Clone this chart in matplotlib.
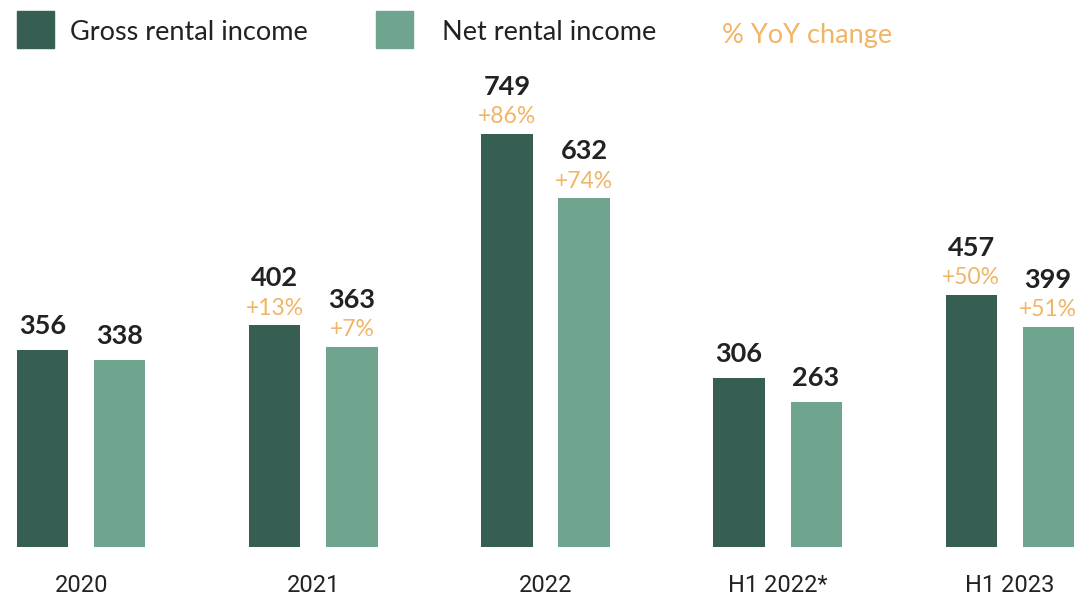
import matplotlib
matplotlib.use("Agg")
import matplotlib.pyplot as plt
from matplotlib.patches import Rectangle

categories = ["2020", "2021", "2022", "H1 2022*", "H1 2023"]
gross = [356, 402, 749, 306, 457]
net = [338, 363, 632, 263, 399]
gross_yoy = [None, "+13%", "+86%", None, "+50%"]
net_yoy = [None, "+7%", "+74%", None, "+51%"]

DARK = "#375E53"
LIGHT = "#6FA58F"
ORANGE = "#F0B565"
TEXT = "#222222"

plt.rcParams['font.family'] = ['Lato', 'DejaVu Sans']

W, H = 1075, 597
fig = plt.figure(figsize=(W / 100, H / 100), dpi=100)
ax = fig.add_axes([0, 50 / H, 1, 547 / H])

off = 0.166
bw = 0.22
xs = list(range(len(categories)))
ax.bar([x - off for x in xs], gross, width=bw, color=DARK)
ax.bar([x + off for x in xs], net, width=bw, color=LIGHT)

ax.set_xlim(-0.351, 4.282)
ax.set_ylim(0, 991)
ax.axis('off')

px = 991 / 547  # data units per pixel


def label(x, v, pct):
    if pct:
        ax.text(x, v + 17 * px, pct, ha='center', va='center', fontsize=16.5, color=ORANGE)
        ax.text(x, v + 47 * px, str(v), ha='center', va='center', fontsize=19.5,
                fontweight='bold', color=TEXT)
    else:
        ax.text(x, v + 24 * px, str(v), ha='center', va='center', fontsize=19.5,
                fontweight='bold', color=TEXT)


for x, g, n, gp, np_ in zip(xs, gross, net, gross_yoy, net_yoy):
    label(x - off, g, gp)
    label(x + off, n, np_)
    ax.text(x, -38 * px, categories[x], ha='center', va='center', fontsize=17,
            color=TEXT, clip_on=False, family=['Roboto', 'DejaVu Sans'])

# legend
fig.add_artist(Rectangle((17 / W, 1 - 48 / H), 37 / W, 37 / H, color=DARK,
                         transform=fig.transFigure))
fig.text(70 / W, 1 - 33 / H, "Gross rental income", fontsize=19.5, color=TEXT, va='center')
fig.add_artist(Rectangle((376 / W, 1 - 48 / H), 37 / W, 37 / H, color=LIGHT,
                         transform=fig.transFigure))
fig.text(442 / W, 1 - 33 / H, "Net rental income", fontsize=19.5, color=TEXT, va='center')
fig.text(722 / W, 1 - 35 / H, "% YoY change", fontsize=19.5, color=ORANGE, va='center')

fig.savefig("out.png", dpi=100)
